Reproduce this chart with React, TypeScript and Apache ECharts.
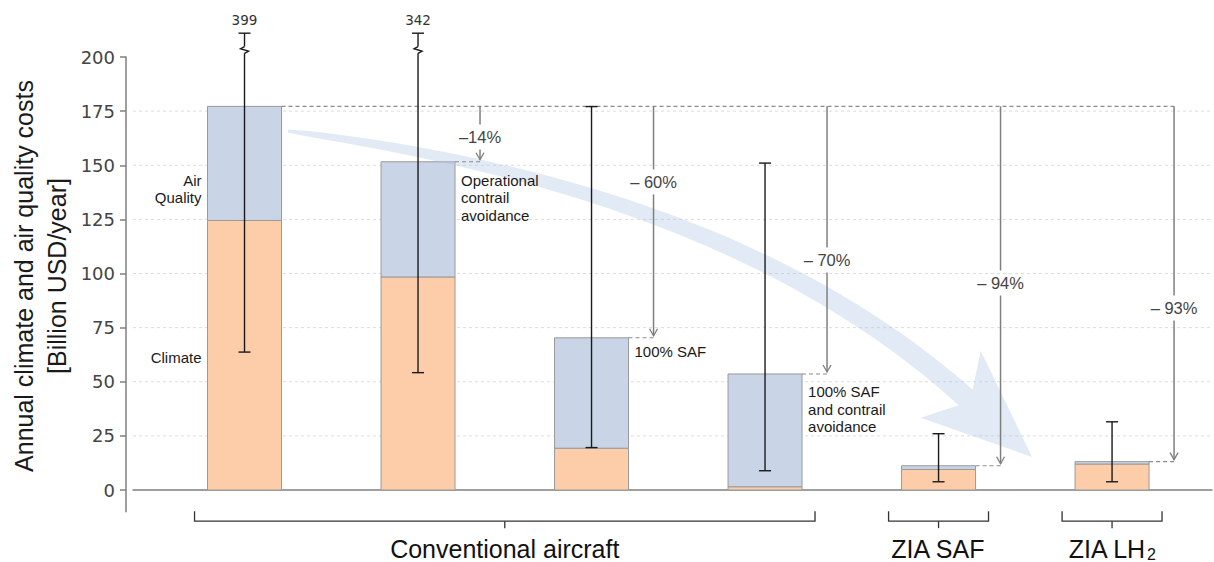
import React, { useEffect, useRef } from 'react';
import * as echarts from 'echarts';

// ---------------- data ----------------
const categories = ['Baseline', 'Operational contrail avoidance', '100% SAF', '100% SAF and contrail avoidance', 'ZIA SAF', 'ZIA LH2'];
const climateCost = [124.5, 98.4, 19.3, 1.5, 9.5, 12.0];
const airQualityCost = [52.7, 53.2, 51.0, 52.1, 1.7, 1.1];
const errorLow = [63.7, 54.2, 19.6, 8.9, 3.8, 3.8];
const errorHigh = [399, 342, 177.1, 151.0, 26.0, 31.5];
const reductionLabels = ['–14%', '– 60%', '– 70%', '– 94%', '– 93%'];
const yTickValues = [0, 25, 50, 75, 100, 125, 150, 175, 200];
const gridValues = [25, 50, 75, 100, 125, 150, 175];
const groupNames = ['Conventional aircraft', 'ZIA SAF', 'ZIA LH'];
const groupSubscripts = ['', '', '2'];
const groupFirst = [0, 4, 5];
const groupLast = [3, 4, 5];
const annotTexts = ['Air\nQuality', 'Climate', 'Operational\ncontrail\navoidance', '100% SAF', '100% SAF\nand contrail\navoidance'];
const annotBar = [0, 0, 1, 2, 3];

const totals = climateCost.map((c, i) => c + airQualityCost[i]);

// ---------------- layout ----------------
const Y_MIN = -10;
const Y_MAX = 200;
const X_MIN = -0.6427;
const X_MAX = 5.576;
const BAR_W = 74;
const BREAK_AT = 201.7;
const BREAK_CAP = 211;
const reductionTextY = [163, 142.3, 106.2, 95.6, 84.1];
const annotSide = ['left', 'left', 'right', 'right', 'right'];
const annotY = [139, 61, 135, 64.2, 37.4];
const ARROW_OFFSET = 25;
const BAND = { start: [0.25, 165.8], ctrl: [2.821, 139], join: [4.156, 42.7], tip: [4.539, 15.2] };

const SANS = "'Liberation Sans', Arial, sans-serif";
const DEJAVU = "'DejaVu Sans', sans-serif";
const GRAY = '#7f7f7f';
const GROUP_FONT = 25;
const SUB_FONT = 16;

let measureCtx: CanvasRenderingContext2D | null = null;
function textWidth(text: string, size: number): number {
  if (!text) return 0;
  if (!measureCtx) measureCtx = document.createElement('canvas').getContext('2d');
  if (!measureCtx) return text.length * size * 0.55;
  measureCtx.font = `${size}px 'Liberation Sans', Arial, sans-serif`;
  return measureCtx.measureText(text).width;
}

function stackedBarSeries(name: string, fill: string, lower: number[], upper: number[]): any {
  return {
    name, type: 'custom', z: 2, silent: true, clip: false,
    data: lower.map((lo, i) => [i, lo, upper[i]]),
    encode: { x: 0, y: [1, 2] },
    renderItem: (_p: any, api: any) => {
      const i = api.value(0);
      const a = api.coord([i, api.value(1)]);
      const b = api.coord([i, api.value(2)]);
      return {
        type: 'rect',
        shape: { x: a[0] - BAR_W / 2, y: b[1], width: BAR_W, height: a[1] - b[1] },
        style: { fill, stroke: '#9a9a9a', lineWidth: 1 },
      };
    },
  };
}

function buildOption(): any {
  return {
    animation: false,
    grid: { left: 133, right: 2, top: 57, bottom: 50.35, containLabel: false },
    xAxis: {
      type: 'value', min: X_MIN, max: X_MAX,
      axisLine: { show: true, onZero: true, lineStyle: { color: GRAY, width: 1.5 } },
      axisTick: { show: false }, axisLabel: { show: false }, splitLine: { show: false },
    },
    yAxis: {
      type: 'value', min: Y_MIN, max: Y_MAX, offset: 7,
      axisLine: { show: true, onZero: false, lineStyle: { color: GRAY, width: 1.5 } },
      axisTick: { show: true, length: 6, customValues: yTickValues, lineStyle: { color: GRAY, width: 1.5 } },
      axisLabel: { customValues: yTickValues, fontSize: 18, color: '#444', fontFamily: DEJAVU, margin: 11 },
      splitLine: { show: false },
    },
    graphic: [
      {
        type: 'text', x: 40, y: 276, rotation: Math.PI / 2,
        style: {
          text: 'Annual climate and air quality costs\n[Billion USD/year]',
          fontSize: 25, fontFamily: SANS, fill: '#1a1a1a', align: 'center', verticalAlign: 'middle', lineHeight: 33,
        },
      },
    ],
    series: [
      // grid lines
      {
        type: 'custom', z: 1, silent: true, clip: false,
        data: gridValues.map((v) => [X_MIN, v]),
        encode: { x: 0, y: 1 },
        renderItem: (_p: any, api: any) => {
          const v = api.value(1);
          const a = api.coord([X_MIN, v]);
          const b = api.coord([X_MAX, v]);
          return { type: 'line', shape: { x1: a[0], y1: a[1], x2: b[0], y2: b[1] }, style: { stroke: '#dcdcdc', lineWidth: 1, lineDash: [3, 3] } };
        },
      },
      stackedBarSeries('Climate', '#fdcca9', climateCost.map(() => 0), climateCost),
      stackedBarSeries('Air Quality', '#c9d4e6', climateCost, totals),
      // curved arrow band
      {
        type: 'custom', z: 3, silent: true, clip: false,
        data: [[BAND.start[0], BAND.start[1]]],
        encode: { x: 0, y: 1 },
        renderItem: (_p: any, api: any) => {
          const S = api.coord(BAND.start);
          const C = api.coord(BAND.ctrl);
          const J = api.coord(BAND.join);
          const T = api.coord(BAND.tip);
          const N = 48;
          const left: number[][] = [];
          const right: number[][] = [];
          for (let s = 0; s <= N; s++) {
            const t = s / N;
            const u = 1 - t;
            const x = u * u * S[0] + 2 * u * t * C[0] + t * t * J[0];
            const y = u * u * S[1] + 2 * u * t * C[1] + t * t * J[1];
            const dx = 2 * u * (C[0] - S[0]) + 2 * t * (J[0] - C[0]);
            const dy = 2 * u * (C[1] - S[1]) + 2 * t * (J[1] - C[1]);
            const len = Math.hypot(dx, dy);
            const nx = -dy / len;
            const ny = dx / len;
            const w = 1.5 + 9 * Math.sqrt(t);
            left.push([x + nx * w, y + ny * w]);
            right.push([x - nx * w, y - ny * w]);
          }
          const dl = Math.hypot(T[0] - J[0], T[1] - J[1]);
          const ux = (T[0] - J[0]) / dl;
          const uy = (T[1] - J[1]) / dl;
          const px = -uy;
          const py = ux;
          const back = 20;
          const half = 45;
          const barbL = [J[0] - ux * back + px * half, J[1] - uy * back + py * half];
          const barbR = [J[0] - ux * back - px * half, J[1] - uy * back - py * half];
          const pts = [...left, barbL, [T[0], T[1]], barbR, ...right.reverse()];
          return { type: 'polygon', shape: { points: pts }, style: { fill: 'rgba(176,196,228,0.36)', stroke: 'none' } };
        },
      },
      // reference line at baseline total
      {
        type: 'custom', z: 4, silent: true, clip: false,
        data: [[0, totals[0]]],
        encode: { x: 0, y: 1 },
        renderItem: (_p: any, api: any) => {
          const a = api.coord([0, totals[0]]);
          const last = api.coord([categories.length - 1, totals[0]]);
          const x1 = a[0] + BAR_W / 2;
          const x2 = last[0] + BAR_W / 2 + ARROW_OFFSET;
          return { type: 'line', shape: { x1, y1: a[1], x2, y2: a[1] }, style: { stroke: '#8c8c8c', lineWidth: 1.1, lineDash: [4, 3] } };
        },
      },
      // reduction arrows
      {
        type: 'custom', z: 4, silent: true, clip: false,
        data: reductionLabels.map((_l, j) => [j + 1, totals[j + 1], reductionTextY[j]]),
        encode: { x: 0, y: 1 },
        renderItem: (params: any, api: any) => {
          const k = api.value(0);
          const tv = api.value(1);
          const ty = api.value(2);
          const pBar = api.coord([k, tv]);
          const xr = pBar[0] + BAR_W / 2;
          const ax = xr + ARROW_OFFSET;
          const yTop = api.coord([k, totals[0]])[1];
          const yText = api.coord([k, ty])[1];
          const yEnd = pBar[1] - 2;
          const ls = { stroke: GRAY, lineWidth: 1.5 };
          return {
            type: 'group',
            children: [
              { type: 'line', shape: { x1: xr, y1: pBar[1], x2: ax, y2: pBar[1] }, style: { stroke: '#8c8c8c', lineWidth: 1.1, lineDash: [4, 3] } },
              { type: 'line', shape: { x1: ax, y1: yTop, x2: ax, y2: yText - 12.5 }, style: ls },
              { type: 'line', shape: { x1: ax, y1: yText + 12.5, x2: ax, y2: yEnd }, style: ls },
              { type: 'polyline', shape: { points: [[ax - 4, yEnd - 7], [ax, yEnd], [ax + 4, yEnd - 7]] }, style: { stroke: GRAY, lineWidth: 1.3, fill: 'none' } },
              {
                type: 'text', x: ax, y: yText,
                style: { text: reductionLabels[params.dataIndex], fontSize: 16.5, fontFamily: SANS, fill: '#444', align: 'center', verticalAlign: 'middle' },
              },
            ],
          };
        },
      },
      // error bars
      {
        type: 'custom', z: 5, silent: true, clip: false,
        data: errorLow.map((lo, i) => [i, lo, errorHigh[i]]),
        encode: { x: 0, y: [1, 2] },
        renderItem: (_p: any, api: any) => {
          const i = api.value(0);
          const lo = api.value(1);
          const hi = api.value(2);
          const broken = hi > Y_MAX;
          const pLo = api.coord([i, lo]);
          const x = pLo[0];
          const yLo = pLo[1];
          const yCap = api.coord([i, broken ? BREAK_CAP : hi])[1];
          const st = { stroke: '#1a1a1a', lineWidth: 1.4 };
          const cap = 6;
          const children: any[] = [
            { type: 'line', shape: { x1: x - cap, y1: yLo, x2: x + cap, y2: yLo }, style: st },
            { type: 'line', shape: { x1: x - cap, y1: yCap, x2: x + cap, y2: yCap }, style: st },
          ];
          if (broken) {
            const yb = api.coord([i, BREAK_AT])[1];
            children.push({ type: 'line', shape: { x1: x, y1: yLo, x2: x, y2: yb }, style: st });
            children.push({ type: 'polyline', shape: { points: [[x, yb], [x + 4, yb - 2.2], [x - 4, yb - 4.6], [x, yb - 6.8]] }, style: { ...st, fill: 'none' } });
            children.push({ type: 'line', shape: { x1: x, y1: yb - 6.8, x2: x, y2: yCap }, style: st });
            children.push({
              type: 'text', x, y: yCap - 13,
              style: { text: String(hi), fontSize: 13.5, fontFamily: DEJAVU, fill: '#333', align: 'center', verticalAlign: 'middle' },
            });
          } else {
            children.push({ type: 'line', shape: { x1: x, y1: yLo, x2: x, y2: yCap }, style: st });
          }
          return { type: 'group', children };
        },
      },
      // annotations beside bars
      {
        type: 'custom', z: 6, silent: true, clip: false,
        data: annotTexts.map((_t, j) => [annotBar[j], annotY[j]]),
        encode: { x: 0, y: 1 },
        renderItem: (params: any, api: any) => {
          const j = params.dataIndex;
          const p = api.coord([api.value(0), api.value(1)]);
          const isLeft = annotSide[j] === 'left';
          const x = isLeft ? p[0] - BAR_W / 2 - 6 : p[0] + BAR_W / 2 + 6;
          return {
            type: 'text', x, y: p[1],
            style: { text: annotTexts[j], fontSize: 15, fontFamily: SANS, fill: '#1a1a1a', align: isLeft ? 'right' : 'left', verticalAlign: 'middle', lineHeight: 17.5 },
          };
        },
      },
      // group brackets
      {
        type: 'custom', z: 6, silent: true, clip: false,
        data: groupFirst.map((f, g) => [f, groupLast[g]]),
        encode: { x: [0, 1] },
        renderItem: (params: any, api: any) => {
          const g = params.dataIndex;
          const a = api.coord([api.value(0) - 0.288, Y_MIN]);
          const b = api.coord([api.value(1) + 0.288, Y_MIN]);
          const y0 = a[1] - 0.5;
          const yh = y0 + 10;
          const xc = (a[0] + b[0]) / 2;
          const st = { stroke: '#333', lineWidth: 1.3, fill: 'none' };
          const name = groupNames[g];
          const sub = groupSubscripts[g];
          const wMain = textWidth(name, GROUP_FONT);
          const wSub = textWidth(sub, SUB_FONT);
          const xStart = xc - (wMain + wSub) / 2;
          const yText = yh + 27.5;
          const children: any[] = [
            { type: 'polyline', shape: { points: [[a[0], y0], [a[0], yh], [b[0], yh], [b[0], y0]] }, style: st },
            { type: 'line', shape: { x1: xc, y1: yh, x2: xc, y2: yh + 7 }, style: st },
            {
              type: 'text', x: xStart, y: yText,
              style: { text: name, fontSize: GROUP_FONT, fontFamily: SANS, fill: '#111', align: 'left', verticalAlign: 'middle' },
            },
          ];
          if (sub) {
            children.push({
              type: 'text', x: xStart + wMain + 0.5, y: yText + 5.5,
              style: { text: sub, fontSize: SUB_FONT, fontFamily: SANS, fill: '#111', align: 'left', verticalAlign: 'middle' },
            });
          }
          return { type: 'group', children };
        },
      },
    ],
  };
}

export default function App() {
  const ref = useRef<HTMLDivElement>(null);
  useEffect(() => {
    document.body.style.margin = '0';
    document.body.style.overflow = 'hidden';
    const chart = echarts.init(ref.current!, null, { renderer: 'svg' });
    chart.setOption(buildOption());
    return () => chart.dispose();
  }, []);
  return <div ref={ref} style={{ width: 1214, height: 562 }} />;
}
